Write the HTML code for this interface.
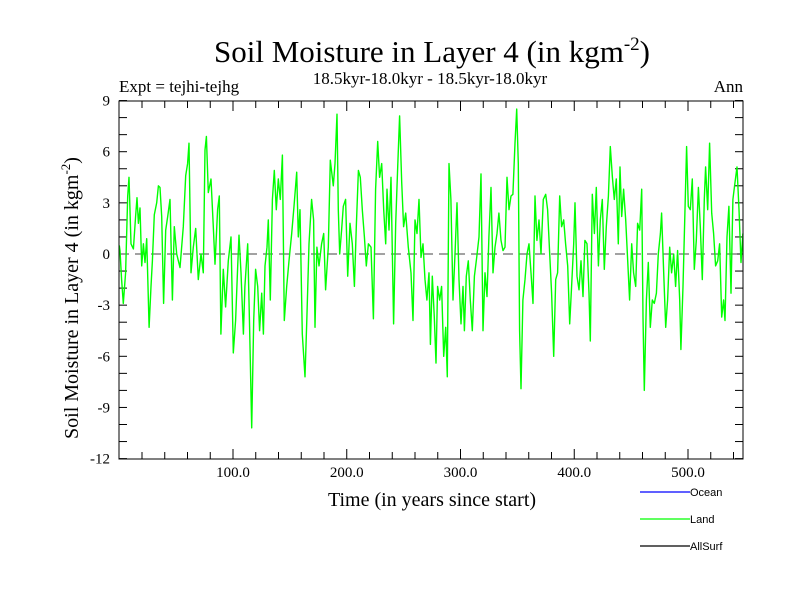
<!DOCTYPE html>
<html><head><meta charset="utf-8"><style>
body{margin:0;background:#fff;}
svg text{font-family:"Liberation Serif",serif;}
</style></head><body>
<svg id="chart" width="800" height="600" xmlns="http://www.w3.org/2000/svg">
<rect width="800" height="600" fill="#fff"/>
<text x="432" y="62" font-size="31" text-anchor="middle">Soil Moisture in Layer 4 (in kgm<tspan dy="-12" font-size="19">-2</tspan><tspan dy="12">)</tspan></text>
<text x="119" y="92" font-size="17">Expt = tejhi-tejhg</text>
<text x="430" y="84" font-size="17" text-anchor="middle">18.5kyr-18.0kyr - 18.5kyr-18.0kyr</text>
<text x="743" y="92" font-size="17" text-anchor="end">Ann</text>
<g id="axes"></g>
<g id="series"></g>
<rect x="119" y="101" width="624" height="358" fill="none" stroke="#000" stroke-width="1"/>
<text x="432" y="506" font-size="20" text-anchor="middle">Time (in years since start)</text>
<text transform="translate(78,298) rotate(-90)" font-size="20" text-anchor="middle">Soil Moisture in Layer 4 (in kgm<tspan dy="-8" font-size="13">-2</tspan><tspan dy="8">)</tspan></text>
<g font-size="11">
<line x1="640" y1="492" x2="690" y2="492" stroke="#0000ff" stroke-width="1.3"/>
<text x="690" y="496" style="font-family:'Liberation Sans',sans-serif">Ocean</text>
<line x1="640" y1="519" x2="690" y2="519" stroke="#00ff00" stroke-width="1.3"/>
<text x="690" y="523" style="font-family:'Liberation Sans',sans-serif">Land</text>
<line x1="640" y1="546" x2="690" y2="546" stroke="#000" stroke-width="1.3"/>
<text x="690" y="550" style="font-family:'Liberation Sans',sans-serif">AllSurf</text>
</g>
</svg>
<script>
const years=[0,0.7,2.1,3.6,5.6,7.4,8.6,10.3,12.4,14.4,15.6,16.8,18.2,19.7,21.2,22.6,24.1,26.2,27.9,29.1,30.8,32.9,34.4,35.8,37.3,39.0,40.8,42.6,44.6,46.7,48.4,50.5,53.4,56.3,58.4,60.1,61.3,63.1,65.1,67.2,69.5,71.9,73.9,75.4,76.6,78.3,80.7,82.7,84.2,86.5,88.0,89.4,91.5,93.5,95.9,98.2,100.3,102.3,104.1,105.3,107.0,109.1,110.5,112.9,114.6,116.4,118.2,119.9,121.7,123.4,125.2,126.7,128.1,129.9,131.0,132.8,134.6,136.3,138.1,139.8,141.6,143.4,145.1,147.2,149.2,151.6,153.6,156.0,157.4,158.9,160.9,163.3,165.0,166.8,169.1,170.9,172.1,173.8,175.6,177.9,179.7,181.4,183.8,185.5,188.2,
189.7,191.4,192.6,193.8,195.5,197.0,199.0,200.8,202.9,204.9,206.7,208.4,210.2,211.9,213.7,215.5,217.2,219.0,221.3,223.4,225.4,227.2,228.9,230.7,232.5,234.2,235.4,237.1,238.9,241.2,243.0,244.8,246.5,248.3,250.0,251.8,254.1,256.5,258.2,260.0,261.8,263.5,265.3,267.0,268.8,270.5,272.3,273.5,275.2,277.0,278.5,279.9,281.7,283.4,285.2,287.0,288.4,289.9,291.6,293.4,295.2,296.9,298.7,300.4,302.2,303.4,305.1,306.9,308.6,310.4,312.2,314.2,316.3,318.0,319.8,321.5,323.3,325.0,326.8,328.6,330.3,332.1,333.8,335.6,337.4,339.1,340.9,342.6,344.4,346.1,347.9,349.4,350.8,352.0,353.2,354.9,356.7,358.5,360.2,362.0,363.7,365.5,367.2,369.0,370.8,372.8,
374.9,376.6,378.4,380.1,381.9,383.7,385.4,387.2,388.9,390.7,392.4,394.2,396.0,397.7,399.5,400.7,402.4,404.2,405.9,407.7,409.4,411.2,413.0,414.1,415.9,417.7,419.4,421.2,422.9,424.7,426.4,428.2,430.0,431.7,433.5,435.2,437.0,438.7,440.2,441.7,443.4,445.2,447.0,448.7,450.5,452.2,454.0,455.7,457.5,459.3,460.4,461.6,463.4,465.1,466.9,468.6,470.4,472.2,473.9,475.7,476.8,478.6,480.4,482.1,483.9,485.6,487.4,489.1,490.9,492.7,493.8,495.6,497.3,498.8,500.3,502.0,503.8,505.5,507.3,509.1,510.8,512.6,514.3,515.5,517.3,519.0,520.8,522.5,524.3,526.1,527.8,529.6,531.3,532.5,534.3,536.0,537.8,539.5,541.3,543.1,544.8,546.6,548.3];
const landValues=[0.5,0.2,-1.5,-2.9,-1.1,3.4,4.5,0.6,0.3,2.2,3.3,1.8,2.7,-0.7,0.6,-0.5,0.9,-4.3,-1.9,-0.4,2.3,3.0,4.0,3.9,2.2,-2.9,1.4,2.2,3.2,-2.7,1.6,0,-0.8,1.6,4.6,5.3,6.5,-1.1,0.4,1.5,-1.5,0,-1.1,6.1,6.9,3.6,4.4,1.6,-0.6,2.6,3.4,-4.7,-0.9,-3.1,-0.4,1.0,-5.8,-3.9,-0.7,1.1,-1.1,-4.7,-1.9,0.6,-4.3,-10.2,-3.9,-0.9,-1.9,-4.5,-2.3,-4.7,-0.7,0.4,2.0,-2.7,3.2,4.9,2.6,4.4,3.2,5.8,-3.9,-1.9,-0.4,1.2,2.8,4.8,1.0,2.6,-4.7,-7.2,-3.7,0.6,3.2,2.0,-4.3,0.4,-0.7,0.6,1.2,-2.1,0.4,5.5,4.0,
5.3,8.2,2.6,0,1.4,2.8,3.2,-1.3,1.8,0.6,-1.9,1.6,4.9,4.5,2.6,1.0,-0.7,0.6,0.4,-3.8,3.8,6.6,4.5,5.3,2.6,0.6,3.8,1.4,4.5,-4.1,1.8,5.1,8.1,4.2,1.6,2.4,0.4,-1.1,-3.9,2.0,1.2,3.2,-0.2,0.6,-1.5,-2.7,-1.1,-5.3,-1.3,-3.7,-6.4,-1.9,-2.7,-1.9,-6.0,-4.3,-7.2,5.3,3.2,-2.7,0,3.0,-1.5,-4.1,-1.9,-4.5,-1.3,-0.4,-2.7,-4.5,-1.3,-0.2,1.0,4.7,-4.5,-1.1,-2.5,1.0,3.9,-1.1,0.4,1.2,2.4,0.8,0.2,0.4,4.5,2.6,3.4,3.5,6.5,8.5,5.3,-4.5,-7.9,-2.7,-1.5,0,0.6,-1.1,-2.9,3.4,0.8,2.0,0,3.2,
3.5,2.6,0,-2.3,-6.0,-1.5,-1.1,3.4,1.6,2.0,0.6,-0.7,-4.1,-1.9,0.6,3.0,-1.3,-2.1,-0.4,-2.5,0.8,0.6,-2.3,-5.1,3.5,1.2,3.9,-0.7,2.0,3.2,-0.9,1.6,3.4,6.3,4.5,3.2,4.4,0.6,5.1,2.2,3.8,2.0,-0.4,-2.7,0.6,-1.1,-1.9,1.8,1.4,3.8,-3.7,-8.0,-2.7,-0.5,-4.3,-2.7,-2.9,-2.3,0,1.2,2.4,-1.1,-4.3,-2.7,0.4,-1.1,0,-1.9,0.2,-2.7,-5.6,-1.9,2.4,6.3,2.8,2.6,4.4,-0.9,0.8,3.9,1.6,-1.5,3.2,5.1,2.6,6.5,2.4,1.2,-0.7,-0.4,0.6,-3.7,-2.7,-3.9,1.0,2.8,-2.3,3.2,4.2,5.1,2.6,-0.5,1.2];
const yTickLabels=[-12,-9,-6,-3,0,3,6,9];
const xTickLabels=[100,200,300,400,500];

const X0=119.25, XS=1.1375, Y0=254, YS=17.05;
const xs=t=>X0+t*XS, ys=v=>Y0-v*YS;
const NS='http://www.w3.org/2000/svg';
const axes=document.getElementById('axes'), ser=document.getElementById('series');
function mk(tag,attrs,parent){const e=document.createElementNS(NS,tag);for(const k in attrs)e.setAttribute(k,attrs[k]);parent.appendChild(e);return e;}
for(let v=-12;v<=9;v++){
  const l=mk('line',{x1:119,x2:127,y1:ys(v),y2:ys(v),stroke:'#000'},axes);
  
  
  const r=mk('line',{x1:735,x2:743,y1:ys(v),y2:ys(v),stroke:'#000'},axes);
  
  
}
yTickLabels.forEach(v=>{
  const t=mk('text',{x:110,y:ys(v)+5,'font-size':15,'text-anchor':'end'},axes);
  t.textContent=String(v);
  
  
});
for(let t=20;t<550;t+=20){
  const len=(t%100===0)?10:7;
  const a=mk('line',{x1:xs(t),x2:xs(t),y1:101,y2:101+len,stroke:'#000'},axes);
  
  
  const b=mk('line',{x1:xs(t),x2:xs(t),y1:459,y2:459-len,stroke:'#000'},axes);
  
  
}
xTickLabels.forEach(v=>{
  const t=mk('text',{x:xs(v),y:477,'font-size':15,'text-anchor':'middle'},axes);
  t.textContent=v.toFixed(1);
  
  
});
const z=mk('line',{x1:119,x2:743,y1:ys(0),y2:ys(0),stroke:'#444','stroke-dasharray':'10,6'},axes);


const d=years.map((t,i)=>(i?'L':'M')+xs(t).toFixed(1)+','+ys(landValues[i]).toFixed(1)).join('');
const p=mk('path',{d:d,fill:'none',stroke:'#00ff00','stroke-width':1.4,'stroke-linejoin':'round'},ser);


</script>
</body></html>
